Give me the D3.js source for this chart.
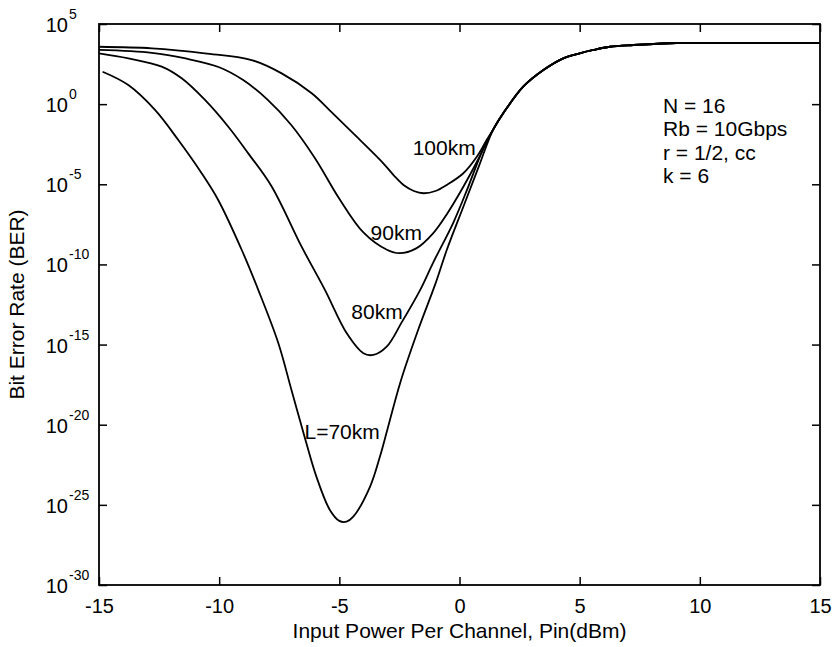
<!DOCTYPE html>
<html>
<head>
<meta charset="utf-8">
<script src="https://cdn.jsdelivr.net/npm/d3@7"></script>
<style>
  body { margin: 0; background: #fff; }
  svg { display: block; font-family: "Liberation Sans", Arial, sans-serif; }
  .tick line { stroke: #000; stroke-width: 1.5; }
</style>
</head>
<body>
<div id="chart"></div>
<script>
// Configuration
const width = 833;
const height = 647;
const margin = { top: 24, right: 13, bottom: 62, left: 99 };

// --- Data (Pin in dBm, BER as log10) ---
const xTicks = [-15, -10, -5, 0, 5, 10, 15];
const yExponents = [5, 0, -5, -10, -15, -20, -25, -30];

// shared high-power branch where all curves merge
const tailPin = [1.4, 1.82, 2.65, 3.49, 4.32, 5.0, 5.57, 6.26, 7.23, 8.76, 11, 15];
const tailLogBer = [-1.59, -0.57, 1.09, 2.13, 2.86, 3.17, 3.38, 3.58, 3.69, 3.8, 3.82, 3.82];

const pin100 = [-15, -12.8, -10.6, -8.65, -7.4, -6.15, -5.39, -4.28, -3.17, -2.7, -2.3, -1.9, -1.5, -1.0, -0.53, 0.16, 0.72, 1.13];
const logBer100 = [3.58, 3.48, 3.17, 2.75, 1.92, 0.68, -0.4, -2.03, -3.69, -4.5, -5.08, -5.42, -5.56, -5.42, -5.04, -4.31, -3.28, -2.24];

const pin90 = [-15, -12.8, -11.4, -10.0, -9.0, -8.0, -7.0, -6.0, -5.0, -4.0, -3.0, -2.5, -1.8, -1.1, -0.5, 0.16, 0.72, 1.13];
const logBer90 = [3.38, 3.2, 2.85, 2.3, 1.5, 0.3, -1.3, -3.4, -5.9, -8.0, -9.1, -9.3, -9.0, -8.06, -6.8, -5.15, -3.61, -2.4];

const pin80 = [-15, -13.78, -12.39, -11.56, -10.59, -9.62, -8.79, -7.81, -6.57, -5.6, -4.69, -4.0, -3.59, -3.03, -2.4, -1.64, -1.1, -0.26, 0.3, 0.98];
const logBer80 = [3.17, 2.86, 2.34, 1.61, 0.26, -1.41, -3.07, -5.15, -8.89, -11.59, -14.3, -15.54, -15.65, -15.13, -13.6, -11.6, -9.9, -7.4, -5.4, -2.8];

const pin70 = [-14.85, -13.78, -12.67, -11.7, -10.73, -10.04, -9.06, -8.37, -7.54, -6.98, -6.4, -5.94, -5.4, -5.0, -4.7, -4.42, -3.72, -3.31, -3.0, -2.45, -1.7, -1.0, -0.53, 0.16, 0.8];
const logBer70 = [2.02, 1.19, -0.36, -2.24, -4.31, -5.98, -9.1, -11.6, -14.9, -17.9, -21.0, -23.3, -25.3, -26.0, -26.05, -25.74, -23.86, -21.99, -20.3, -17.3, -14.0, -11.2, -9.1, -6.4, -3.9];

const curveLabels = [
    { text: "100km", pin: -1.95, logBer: -3.2 },
    { text: "90km", pin: -3.7, logBer: -8.5 },
    { text: "80km", pin: -4.5, logBer: -13.4 },
    { text: "L=70km", pin: -6.45, logBer: -20.9 }
];
const noteLines = ["N = 16", "Rb = 10Gbps", "r = 1/2, cc", "k = 6"];

// --- Scales ---
const x = d3.scaleLinear().domain([-15, 15]).range([margin.left, width - margin.right]);
const y = d3.scaleLog().domain([1e-30, 1e5]).range([height - margin.bottom, margin.top]);
const yTicks = yExponents.map(e => Math.pow(10, e));

const svg = d3.select("#chart")
    .append("svg")
    .attr("width", width)
    .attr("height", height);

// Axes with inward ticks on all four sides
const axisB = svg.append("g")
    .attr("transform", `translate(0,${height - margin.bottom})`)
    .call(d3.axisBottom(x).tickValues(xTicks).tickSizeInner(-8).tickSizeOuter(0).tickPadding(14)
        .tickFormat(d => String(d)));
axisB.selectAll("text").attr("font-size", 20).attr("fill", "#000").attr("font-family", null);

svg.append("g")
    .attr("transform", `translate(0,${margin.top})`)
    .call(d3.axisTop(x).tickValues(xTicks).tickSizeInner(-8).tickSizeOuter(0).tickFormat(""));

svg.append("g")
    .attr("transform", `translate(${margin.left},0)`)
    .call(d3.axisLeft(y).tickValues(yTicks).tickSizeInner(-8).tickSizeOuter(0).tickFormat(""));

svg.append("g")
    .attr("transform", `translate(${width - margin.right},0)`)
    .call(d3.axisRight(y).tickValues(yTicks).tickSizeInner(-8).tickSizeOuter(0).tickFormat(""));

svg.selectAll(".domain").remove();

// y tick labels: 10 with superscript exponent
const yLab = svg.append("g").attr("class", "ylabels");
yExponents.forEach(e => {
    const ty = y(Math.pow(10, e));
    yLab.append("text")
        .attr("x", 68).attr("y", ty + 8)
        .attr("text-anchor", "end")
        .attr("font-size", 20)
        .text("10");
    yLab.append("text")
        .attr("x", 69).attr("y", ty - 5)
        .attr("font-size", 14)
        .text(String(e));
});

// Frame
svg.append("rect")
    .attr("x", margin.left)
    .attr("y", margin.top)
    .attr("width", width - margin.left - margin.right)
    .attr("height", height - margin.top - margin.bottom)
    .attr("fill", "none")
    .attr("stroke", "#000")
    .attr("stroke-width", 1.8);

// Curves
const line = d3.line()
    .x(d => x(d[0]))
    .y(d => y(Math.pow(10, d[1])))
    .curve(d3.curveCatmullRom.alpha(0.5));

const series = [
    [pin100, logBer100],
    [pin90, logBer90],
    [pin80, logBer80],
    [pin70, logBer70]
].map(([p, b]) => p.map((v, i) => [v, b[i]]).concat(tailPin.map((v, i) => [v, tailLogBer[i]])));

svg.append("g")
    .selectAll("path")
    .data(series)
    .join("path")
    .attr("d", line)
    .attr("fill", "none")
    .attr("stroke", "#000")
    .attr("stroke-width", 1.8);

// Curve labels
svg.append("g")
    .selectAll("text")
    .data(curveLabels)
    .join("text")
    .attr("x", d => x(d.pin))
    .attr("y", d => y(Math.pow(10, d.logBer)))
    .attr("font-size", 21)
    .text(d => d.text);

// Parameter note
svg.append("g")
    .selectAll("text")
    .data(noteLines)
    .join("text")
    .attr("x", 663)
    .attr("y", (d, i) => 112.5 + i * 23.5)
    .attr("font-size", 21)
    .text(d => d);

// Axis titles
svg.append("text")
    .attr("x", (margin.left + width - margin.right) / 2)
    .attr("y", 638)
    .attr("text-anchor", "middle")
    .attr("font-size", 21)
    .text("Input Power Per Channel, Pin(dBm)");

svg.append("text")
    .attr("transform", `translate(24,${(margin.top + height - margin.bottom) / 2}) rotate(-90)`)
    .attr("text-anchor", "middle")
    .attr("font-size", 21)
    .text("Bit Error Rate (BER)");
</script>
</body>
</html>
